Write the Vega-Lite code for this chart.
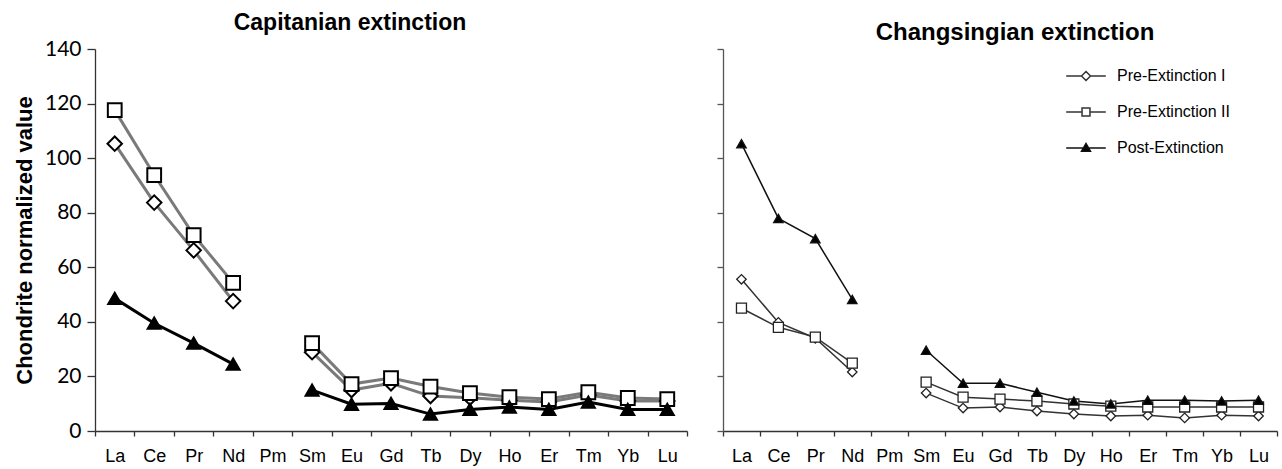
{
  "$schema": "https://vega.github.io/schema/vega-lite/v6.json",
  "padding": {"left": 13, "top": 12, "right": 5, "bottom": 5},
  "background": "white",
  "config": {
    "view": {"stroke": null},
    "font": "Liberation Sans",
    "axis": {"grid": false, "domainColor": "#333", "tickColor": "#333", "labelColor": "#000", "titleColor": "#000", "domainWidth": 1.3, "tickWidth": 1.3},
    "title": {"color": "#000"}
  },
  "bounds": "flush",
  "spacing": 36,
  "resolve": {"scale": {"color": "independent", "strokeWidth": "independent", "size": "independent", "shape": "independent", "fill": "independent"}},
  "datasets": {
    "cap": [
      {"s": "Pre-Extinction I", "e": "La", "n": 1, "g": "L", "v": 105.3},
      {"s": "Pre-Extinction I", "e": "Ce", "n": 2, "g": "L", "v": 83.7},
      {"s": "Pre-Extinction I", "e": "Pr", "n": 3, "g": "L", "v": 66.2},
      {"s": "Pre-Extinction I", "e": "Nd", "n": 4, "g": "L", "v": 47.6},
      {"s": "Pre-Extinction I", "e": "Sm", "n": 6, "g": "H", "v": 28.9},
      {"s": "Pre-Extinction I", "e": "Eu", "n": 7, "g": "H", "v": 15.0},
      {"s": "Pre-Extinction I", "e": "Gd", "n": 8, "g": "H", "v": 17.5},
      {"s": "Pre-Extinction I", "e": "Tb", "n": 9, "g": "H", "v": 12.8},
      {"s": "Pre-Extinction I", "e": "Dy", "n": 10, "g": "H", "v": 12.2},
      {"s": "Pre-Extinction I", "e": "Ho", "n": 11, "g": "H", "v": 11.3},
      {"s": "Pre-Extinction I", "e": "Er", "n": 12, "g": "H", "v": 10.6},
      {"s": "Pre-Extinction I", "e": "Tm", "n": 13, "g": "H", "v": 13.2},
      {"s": "Pre-Extinction I", "e": "Yb", "n": 14, "g": "H", "v": 11.0},
      {"s": "Pre-Extinction I", "e": "Lu", "n": 15, "g": "H", "v": 11.0},
      {"s": "Pre-Extinction II", "e": "La", "n": 1, "g": "L", "v": 117.6},
      {"s": "Pre-Extinction II", "e": "Ce", "n": 2, "g": "L", "v": 93.8},
      {"s": "Pre-Extinction II", "e": "Pr", "n": 3, "g": "L", "v": 71.8},
      {"s": "Pre-Extinction II", "e": "Nd", "n": 4, "g": "L", "v": 54.3},
      {"s": "Pre-Extinction II", "e": "Sm", "n": 6, "g": "H", "v": 32.2},
      {"s": "Pre-Extinction II", "e": "Eu", "n": 7, "g": "H", "v": 17.2},
      {"s": "Pre-Extinction II", "e": "Gd", "n": 8, "g": "H", "v": 19.4},
      {"s": "Pre-Extinction II", "e": "Tb", "n": 9, "g": "H", "v": 16.3},
      {"s": "Pre-Extinction II", "e": "Dy", "n": 10, "g": "H", "v": 13.9},
      {"s": "Pre-Extinction II", "e": "Ho", "n": 11, "g": "H", "v": 12.4},
      {"s": "Pre-Extinction II", "e": "Er", "n": 12, "g": "H", "v": 11.7},
      {"s": "Pre-Extinction II", "e": "Tm", "n": 13, "g": "H", "v": 14.2},
      {"s": "Pre-Extinction II", "e": "Yb", "n": 14, "g": "H", "v": 12.1},
      {"s": "Pre-Extinction II", "e": "Lu", "n": 15, "g": "H", "v": 11.7},
      {"s": "Post-Extinction", "e": "La", "n": 1, "g": "L", "v": 48.6},
      {"s": "Post-Extinction", "e": "Ce", "n": 2, "g": "L", "v": 39.5},
      {"s": "Post-Extinction", "e": "Pr", "n": 3, "g": "L", "v": 32.2},
      {"s": "Post-Extinction", "e": "Nd", "n": 4, "g": "L", "v": 24.5},
      {"s": "Post-Extinction", "e": "Sm", "n": 6, "g": "H", "v": 15.0},
      {"s": "Post-Extinction", "e": "Eu", "n": 7, "g": "H", "v": 9.8},
      {"s": "Post-Extinction", "e": "Gd", "n": 8, "g": "H", "v": 10.1},
      {"s": "Post-Extinction", "e": "Tb", "n": 9, "g": "H", "v": 6.2},
      {"s": "Post-Extinction", "e": "Dy", "n": 10, "g": "H", "v": 7.9},
      {"s": "Post-Extinction", "e": "Ho", "n": 11, "g": "H", "v": 8.8},
      {"s": "Post-Extinction", "e": "Er", "n": 12, "g": "H", "v": 7.9},
      {"s": "Post-Extinction", "e": "Tm", "n": 13, "g": "H", "v": 10.6},
      {"s": "Post-Extinction", "e": "Yb", "n": 14, "g": "H", "v": 7.9},
      {"s": "Post-Extinction", "e": "Lu", "n": 15, "g": "H", "v": 7.9}
    ],
    "chg": [
      {"s": "Pre-Extinction I", "e": "La", "n": 1, "g": "L", "v": 55.6},
      {"s": "Pre-Extinction I", "e": "Ce", "n": 2, "g": "L", "v": 39.8},
      {"s": "Pre-Extinction I", "e": "Pr", "n": 3, "g": "L", "v": 34.0},
      {"s": "Pre-Extinction I", "e": "Nd", "n": 4, "g": "L", "v": 21.6},
      {"s": "Pre-Extinction I", "e": "Sm", "n": 6, "g": "H", "v": 13.9},
      {"s": "Pre-Extinction I", "e": "Eu", "n": 7, "g": "H", "v": 8.4},
      {"s": "Pre-Extinction I", "e": "Gd", "n": 8, "g": "H", "v": 8.8},
      {"s": "Pre-Extinction I", "e": "Tb", "n": 9, "g": "H", "v": 7.3},
      {"s": "Pre-Extinction I", "e": "Dy", "n": 10, "g": "H", "v": 6.2},
      {"s": "Pre-Extinction I", "e": "Ho", "n": 11, "g": "H", "v": 5.5},
      {"s": "Pre-Extinction I", "e": "Er", "n": 12, "g": "H", "v": 5.8},
      {"s": "Pre-Extinction I", "e": "Tm", "n": 13, "g": "H", "v": 4.8},
      {"s": "Pre-Extinction I", "e": "Yb", "n": 14, "g": "H", "v": 5.8},
      {"s": "Pre-Extinction I", "e": "Lu", "n": 15, "g": "H", "v": 5.5},
      {"s": "Pre-Extinction II", "e": "La", "n": 1, "g": "L", "v": 45.0},
      {"s": "Pre-Extinction II", "e": "Ce", "n": 2, "g": "L", "v": 38.0},
      {"s": "Pre-Extinction II", "e": "Pr", "n": 3, "g": "L", "v": 34.4},
      {"s": "Pre-Extinction II", "e": "Nd", "n": 4, "g": "L", "v": 24.9},
      {"s": "Pre-Extinction II", "e": "Sm", "n": 6, "g": "H", "v": 17.9},
      {"s": "Pre-Extinction II", "e": "Eu", "n": 7, "g": "H", "v": 12.4},
      {"s": "Pre-Extinction II", "e": "Gd", "n": 8, "g": "H", "v": 11.7},
      {"s": "Pre-Extinction II", "e": "Tb", "n": 9, "g": "H", "v": 11.0},
      {"s": "Pre-Extinction II", "e": "Dy", "n": 10, "g": "H", "v": 9.9},
      {"s": "Pre-Extinction II", "e": "Ho", "n": 11, "g": "H", "v": 9.1},
      {"s": "Pre-Extinction II", "e": "Er", "n": 12, "g": "H", "v": 8.8},
      {"s": "Pre-Extinction II", "e": "Tm", "n": 13, "g": "H", "v": 8.8},
      {"s": "Pre-Extinction II", "e": "Yb", "n": 14, "g": "H", "v": 8.8},
      {"s": "Pre-Extinction II", "e": "Lu", "n": 15, "g": "H", "v": 8.8},
      {"s": "Post-Extinction", "e": "La", "n": 1, "g": "L", "v": 105.3},
      {"s": "Post-Extinction", "e": "Ce", "n": 2, "g": "L", "v": 77.9},
      {"s": "Post-Extinction", "e": "Pr", "n": 3, "g": "L", "v": 70.5},
      {"s": "Post-Extinction", "e": "Nd", "n": 4, "g": "L", "v": 48.2},
      {"s": "Post-Extinction", "e": "Sm", "n": 6, "g": "H", "v": 29.6},
      {"s": "Post-Extinction", "e": "Eu", "n": 7, "g": "H", "v": 17.5},
      {"s": "Post-Extinction", "e": "Gd", "n": 8, "g": "H", "v": 17.5},
      {"s": "Post-Extinction", "e": "Tb", "n": 9, "g": "H", "v": 14.2},
      {"s": "Post-Extinction", "e": "Dy", "n": 10, "g": "H", "v": 11.0},
      {"s": "Post-Extinction", "e": "Ho", "n": 11, "g": "H", "v": 9.9},
      {"s": "Post-Extinction", "e": "Er", "n": 12, "g": "H", "v": 11.3},
      {"s": "Post-Extinction", "e": "Tm", "n": 13, "g": "H", "v": 11.3},
      {"s": "Post-Extinction", "e": "Yb", "n": 14, "g": "H", "v": 11.0},
      {"s": "Post-Extinction", "e": "Lu", "n": 15, "g": "H", "v": 11.3}
    ]
  },
  "hconcat": [
    {
      "width": 592,
      "height": 382,
      "data": {"name": "cap"},
      "title": {"text": "Capitanian extinction", "font": "Liberation Sans", "fontSize": 23, "fontWeight": "bold", "dx": -41, "offset": 3},
      "encoding": {
        "x": {"field": "e", "type": "nominal", "sort": ["La","Ce","Pr","Nd","Pm","Sm","Eu","Gd","Tb","Dy","Ho","Er","Tm","Yb","Lu"],
          "scale": {"domain": ["La","Ce","Pr","Nd","Pm","Sm","Eu","Gd","Tb","Dy","Ho","Er","Tm","Yb","Lu"], "paddingInner": 0, "paddingOuter": 0},
          "axis": {"title": null, "labelAngle": 0, "tickBand": "extent", "labelFont": "Liberation Sans", "labelFontSize": 18, "tickSize": 5, "labelPadding": 11}},
        "y": {"field": "v", "type": "quantitative", "scale": {"domain": [0, 140], "nice": false},
          "axis": {"values": [0,20,40,60,80,100,120,140], "title": "Chondrite normalized value", "titleFont": "Liberation Sans", "titleFontSize": 22, "titleFontWeight": "bold", "titlePadding": 8, "labelFont": "Lato", "labelFontSize": 21, "tickSize": 8, "labelPadding": 6}}
      },
      "layer": [
        {
          "mark": {"type": "line"},
          "encoding": {
            "detail": {"field": "g", "type": "nominal"},
            "order": {"field": "n", "type": "quantitative"},
            "color": {"field": "s", "type": "nominal", "scale": {"domain": ["Pre-Extinction I","Pre-Extinction II","Post-Extinction"], "range": ["#7a7a7a","#7a7a7a","#000000"]}, "legend": null},
            "strokeWidth": {"field": "s", "type": "nominal", "scale": {"domain": ["Pre-Extinction I","Pre-Extinction II","Post-Extinction"], "range": [3, 3, 2]}, "legend": null}
          }
        },
        {
          "mark": {"type": "point", "filled": true, "stroke": "#000", "strokeWidth": 2, "opacity": 1},
          "encoding": {
            "shape": {"field": "s", "type": "nominal", "scale": {"domain": ["Pre-Extinction I","Pre-Extinction II","Post-Extinction"], "range": ["diamond","square","triangle-up"]}, "legend": null},
            "fill": {"field": "s", "type": "nominal", "scale": {"domain": ["Pre-Extinction I","Pre-Extinction II","Post-Extinction"], "range": ["#ffffff","#ffffff","#000000"]}, "legend": null},
            "size": {"field": "s", "type": "nominal", "scale": {"domain": ["Pre-Extinction I","Pre-Extinction II","Post-Extinction"], "range": [210, 170, 120]}, "legend": null}
          }
        }
      ]
    },
    {
      "width": 554,
      "height": 382,
      "data": {"name": "chg"},
      "title": {"text": "Changsingian extinction", "font": "Liberation Sans", "fontSize": 24, "fontWeight": "bold", "dx": 15, "offset": 3},
      "encoding": {
        "x": {"field": "e", "type": "nominal", "sort": ["La","Ce","Pr","Nd","Pm","Sm","Eu","Gd","Tb","Dy","Ho","Er","Tm","Yb","Lu"],
          "scale": {"domain": ["La","Ce","Pr","Nd","Pm","Sm","Eu","Gd","Tb","Dy","Ho","Er","Tm","Yb","Lu"], "paddingInner": 0, "paddingOuter": 0},
          "axis": {"title": null, "labelAngle": 0, "tickBand": "extent", "labelFont": "Liberation Sans", "labelFontSize": 18, "tickSize": 5, "labelPadding": 11}},
        "y": {"field": "v", "type": "quantitative", "scale": {"domain": [0, 140], "nice": false},
          "axis": {"values": [0,20,40,60,80,100,120,140], "title": null, "labels": false, "tickSize": 6, "domainColor": "#555", "tickColor": "#555"}}
      },
      "layer": [
        {
          "mark": {"type": "line", "strokeWidth": 1.5},
          "encoding": {
            "detail": {"field": "g", "type": "nominal"},
            "order": {"field": "n", "type": "quantitative"},
            "color": {"field": "s", "type": "nominal", "scale": {"domain": ["Pre-Extinction I","Pre-Extinction II","Post-Extinction"], "range": ["#333333","#333333","#111111"]},
              "legend": {"title": null, "orient": "none", "legendX": 344, "legendY": 8, "symbolSize": 1296, "rowPadding": 9, "labelFont": "Liberation Sans", "labelFontSize": 16, "labelColor": "#000", "labelOffset": 12, "symbolStrokeWidth": 1.5,
                "encode": {"symbols": {"update": {
                  "shape": {"signal": "datum.value === 'Pre-Extinction I' ? 'M-1.1,0H-0.25M0.25,0H1.1M-0.25,0L0,-0.25L0.25,0L0,0.25Z' : datum.value === 'Pre-Extinction II' ? 'M-1.1,0H-0.22M0.22,0H1.1M-0.22,-0.22H0.22V0.22H-0.22Z' : 'M-1.1,0H1.1M-0.25,0.18L0.25,0.18L0,-0.25Z'"},
                  "fill": {"signal": "datum.value === 'Post-Extinction' ? '#000' : '#fff'"},
                  "strokeWidth": {"value": 1.5},
                  "opacity": {"value": 1}
                }}}}}
          }
        },
        {
          "transform": [{"filter": {"field": "s", "equal": "Pre-Extinction I"}}],
          "mark": {"type": "point", "shape": "diamond", "size": 90, "filled": true, "fill": "#ffffff", "stroke": "#222", "strokeWidth": 1.3, "opacity": 1}
        },
        {
          "transform": [{"filter": {"field": "s", "equal": "Pre-Extinction II"}}],
          "mark": {"type": "point", "shape": "square", "size": 100, "filled": true, "fill": "#ffffff", "stroke": "#222", "strokeWidth": 1.3, "opacity": 1}
        },
        {
          "transform": [{"filter": {"field": "s", "equal": "Post-Extinction"}}],
          "mark": {"type": "point", "shape": "triangle-up", "size": 90, "filled": true, "fill": "#000000", "stroke": "#111", "strokeWidth": 1.3, "opacity": 1}
        }
      ]
    }
  ]
}
